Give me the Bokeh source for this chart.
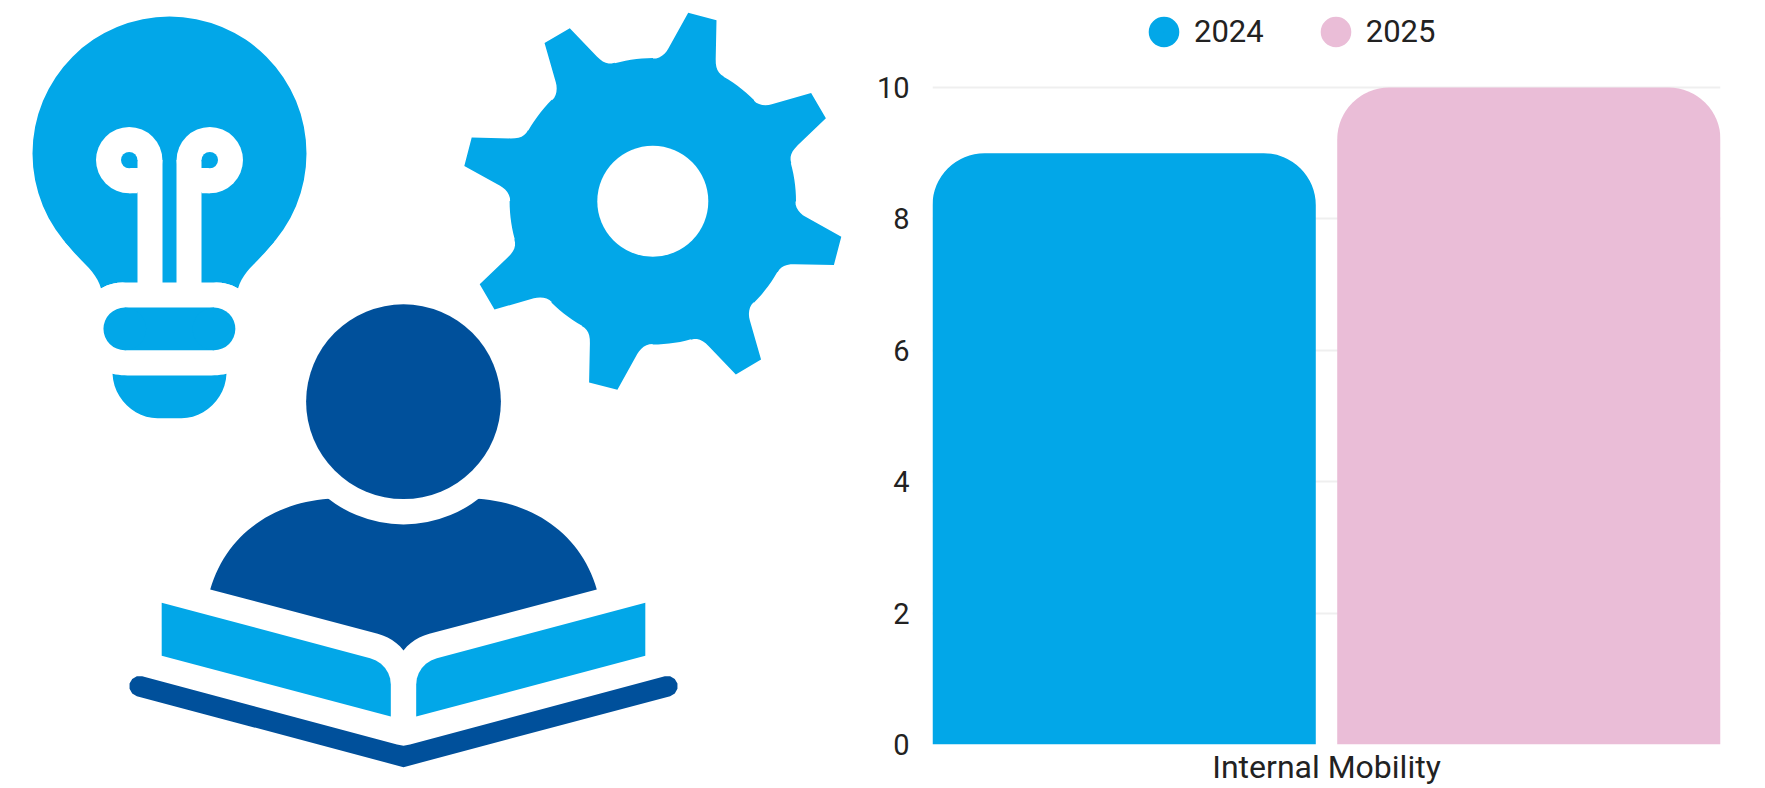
import math

from bokeh.core.properties import value
from bokeh.embed import file_html
from bokeh.models import FactorRange, FixedTicker, Legend, LegendItem, Range1d
from bokeh.plotting import figure
from bokeh.resources import INLINE
from bokeh.transform import dodge

# Chart values
categories = ["Internal Mobility"]
series_names = ["2024", "2025"]
values_2024 = [9]
values_2025 = [10]
y_ticks = [0, 2, 4, 6, 8, 10]

LIGHT_BLUE = "#02A7E8"
DARK_BLUE = "#00509B"
PINK = "#EABDD7"
INK = "#222222"


# Small path helpers for the icon outlines, all in page pixels
def arc(cx, cy, r, a0, a1):
    n = max(3, int(abs(a1 - a0) * r * math.pi / 180 / 5))
    return [(cx + r * math.cos(math.radians(a0 + (a1 - a0) * i / n)),
             cy + r * math.sin(math.radians(a0 + (a1 - a0) * i / n))) for i in range(n + 1)]


def curve(p0, c0, c1, p1):
    n = max(6, int(math.dist(p0, p1) / 5))
    pts = []
    for i in range(n + 1):
        t = i / n
        u = 1 - t
        pts.append((u**3 * p0[0] + 3 * u * u * t * c0[0] + 3 * u * t * t * c1[0] + t**3 * p1[0],
                    u**3 * p0[1] + 3 * u * u * t * c0[1] + 3 * u * t * t * c1[1] + t**3 * p1[1]))
    return pts


def mirror(pts, axis):
    return [(2 * axis - x, y) for x, y in pts]


def rotate(pt, deg):
    c, s = math.cos(math.radians(deg)), math.sin(math.radians(deg))
    return (pt[0] * c - pt[1] * s, pt[0] * s + pt[1] * c)


def box(x0, x1, y0, y1):
    return [(x0, y0), (x1, y0), (x1, y1), (x0, y1)]


icons = figure(width=860, height=788, x_range=Range1d(0, 860), y_range=Range1d(788, 0),
               output_backend="svg", toolbar_location=None, min_border=0,
               outline_line_color=None, background_fill_color="white",
               styles={"position": "absolute", "left": "0px", "top": "0px"})
icons.axis.visible = False
icons.grid.visible = False


def fill(shape, color):
    icons.patch([p[0] for p in shape], [p[1] for p in shape],
                fill_color=color, line_color=None)


def disc(cx, cy, r, color):
    icons.circle(x=[cx], y=[cy], radius=r, fill_color=color, line_color=None)


def draw_bulb():
    axis = 169
    disc(axis, 153, 137, LIGHT_BLUE)
    left_edge = (curve((64, 241), (70, 248), (77, 256), (85, 264))
                 + curve((85, 264), (92, 271), (98, 279), (100.5, 288)))
    base = (curve((100.5, 288), (106, 285), (112, 282), (122, 282))
            + curve((216, 282), (226, 282), (232, 285), (237.5, 288)))
    fill(base + mirror(left_edge, axis)[::-1] + left_edge, LIGHT_BLUE)
    # The dome's circle would dip below the flat neck line, so clear that sliver
    fill(base + [(237.5, 296), (100.5, 296)], "white")

    # Two filament loops, left one and its reflection
    for flip in (False, True):
        x = (lambda v: 2 * axis - v) if flip else (lambda v: v)
        disc(x(128.7), 159.6, 33.2, "white")
        fill(box(x(137), x(162), 159.6, 283), "white")
        fill(box(x(128.7), x(137), 159.6, 192.8), "white")
        disc(x(128.7), 159.6, 8.2, LIGHT_BLUE)
        fill(box(x(128.7), x(137), 159.6, 167.6), LIGHT_BLUE)

    fill(box(124.3, 213.5, 307, 349.7), LIGHT_BLUE)
    disc(124.3, 328.35, 21.35, LIGHT_BLUE)
    disc(213.5, 328.35, 21.35, LIGHT_BLUE)

    cap = (curve((112, 373.3), (118, 374.6), (124, 375), (130, 375))
           + curve((208, 375), (214, 375), (220, 374.6), (226, 373.3))
           + curve((226, 373.3), (225, 398), (204, 417.7), (181, 417.7))
           + curve((157, 417.7), (134, 417.7), (113, 398), (112, 373.3)))
    fill(cap, LIGHT_BLUE)


def draw_gear():
    cx, cy = 652.3, 200.8
    tooth = ([(35.4, -188.5), (63.7, -181.1), (62.9, -142)]
             + curve((62.9, -142), (62.7, -133), (65, -128), (71, -124.8))
             + arc(0, 0, 143.2, -60.4, -44.9)
             + curve((101, -100.8), (105.2, -95.8), (113.2, -95.3), (119, -97)))
    outline = []
    for k in range(8):
        outline += [rotate(p, 45 * k) for p in tooth]
    fill([(x + cx, y + cy) for x, y in outline], LIGHT_BLUE)
    disc(cx, cy, 55.5, "white")


def draw_reader():
    axis = 403
    shoulder = (curve((328.2, 498.3), (272, 502), (225, 535), (209.7, 589))
                + curve((377.2, 633.3), (388, 636.5), (396, 641), (axis, 650)))
    fill(shoulder + mirror(shoulder, axis)[::-1], DARK_BLUE)
    disc(axis, 401.2, 122.8, "white")
    disc(axis, 401.2, 97.4, DARK_BLUE)

    page = ([(161.2, 602.3), (369.6, 657.7)]
            + curve((369.6, 657.7), (382, 661), (390.3, 672), (390.3, 684))
            + [(390.3, 716), (161.2, 655.3)])
    fill(page, LIGHT_BLUE)
    fill(mirror(page, axis), LIGHT_BLUE)

    spine = (arc(139, 685.7, 10.3, 105, 285)
             + [(396.5, 744), (axis, 745.3), (2 * axis - 396.5, 744)]
             + arc(2 * axis - 139, 685.7, 10.3, -105, 75)
             + [(axis, 766.7)])
    fill(spine, DARK_BLUE)


draw_reader()
draw_bulb()
draw_gear()

# Grouped bar chart; the frame runs to the top of the page so the legend sits inside it
chart = figure(width=905, height=788, x_range=FactorRange(factors=categories, range_padding=0),
               y_range=Range1d(0, 744 / 65.7), output_backend="svg", toolbar_location=None,
               min_border_left=72, min_border_right=45, min_border_top=0, min_border_bottom=44,
               outline_line_color=None,
               styles={"position": "absolute", "left": "860px", "top": "0px"})

source = dict(category=categories, y2024=values_2024, y2025=values_2025)
chart.vbar(x=dodge("category", -0.2568, range=chart.x_range), top="y2024", width=0.4864, source=source,
           fill_color=LIGHT_BLUE, line_color=None, border_radius=(52, 52, 0, 0))
chart.vbar(x=dodge("category", 0.2568, range=chart.x_range), top="y2025", width=0.4864, source=source,
           fill_color=PINK, line_color=None, border_radius=(52, 52, 0, 0))

chart.yaxis.ticker = FixedTicker(ticks=y_ticks)
chart.xgrid.visible = False
chart.ygrid.grid_line_color = "#EFEFEF"
chart.ygrid.grid_line_width = 2
chart.ygrid.level = "underlay"

for axis in (chart.xaxis[0], chart.yaxis[0]):
    axis.axis_line_color = None
    axis.major_tick_line_color = None
    axis.minor_tick_line_color = None
    axis.major_tick_out = 0
    axis.major_tick_in = 0
    axis.major_label_text_font = "Roboto"
    axis.major_label_text_color = INK
chart.yaxis.major_label_text_font_size = "29px"
chart.xaxis.major_label_text_font_size = "32px"
chart.yaxis.major_label_standoff = 23
chart.xaxis.major_label_standoff = 3

# Legend keys: single points below the visible range, so only their legend swatches appear.
# The thick outline brings the swatch up to its full diameter.
swatch_2024 = chart.circle(x=categories, y=[-1], radius=15, radius_units="screen",
                           fill_color=LIGHT_BLUE, line_color=LIGHT_BLUE, line_width=15)
swatch_2025 = chart.circle(x=categories, y=[-1], radius=15, radius_units="screen",
                           fill_color=PINK, line_color=PINK, line_width=15)
legend = Legend(items=[LegendItem(label=value(series_names[0]), renderers=[swatch_2024]),
                       LegendItem(label=value(series_names[1]), renderers=[swatch_2025])],
                orientation="horizontal", location=(212, 693), glyph_width=39, glyph_height=39,
                label_standoff=11, spacing=52, padding=0, margin=0,
                border_line_color=None, background_fill_alpha=0,
                label_text_font="Roboto", label_text_font_size="31px", label_text_color=INK)
chart.add_layout(legend, "center")

open("out.html", "w").write(file_html([icons, chart], INLINE))
